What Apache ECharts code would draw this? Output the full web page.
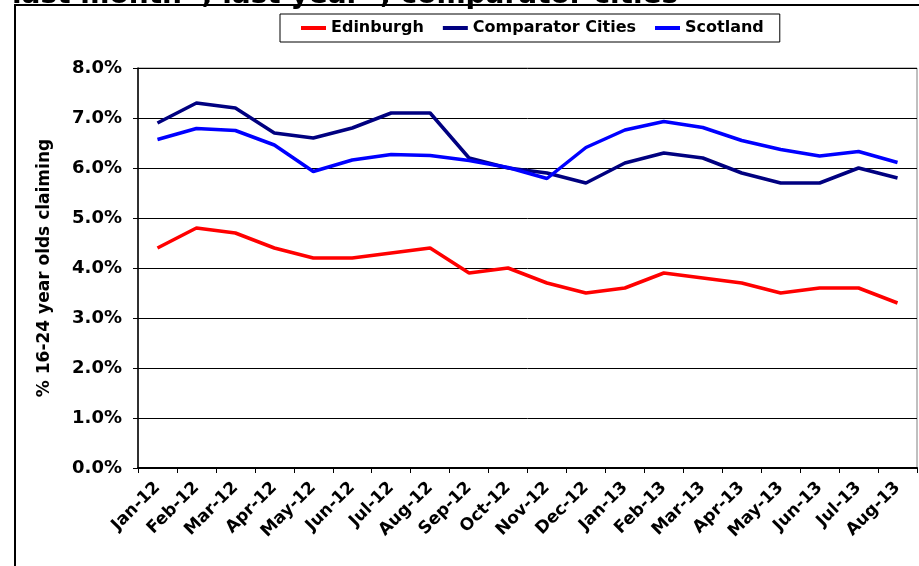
<!DOCTYPE html>
<html>
<head>
<meta charset="utf-8">
<script src="https://cdn.jsdelivr.net/npm/echarts@6/dist/echarts.min.js"></script>
<style>
  html, body { margin: 0; padding: 0; background: #fff; }
  #chart { width: 919px; height: 566px; }
</style>
</head>
<body>
<div id="chart"></div>
<script>
// 月份
var months = ['Jan-12', 'Feb-12', 'Mar-12', 'Apr-12', 'May-12', 'Jun-12', 'Jul-12', 'Aug-12', 'Sep-12', 'Oct-12',
  'Nov-12', 'Dec-12', 'Jan-13', 'Feb-13', 'Mar-13', 'Apr-13', 'May-13', 'Jun-13', 'Jul-13', 'Aug-13'];
// % 16-24 year olds claiming
var edinburgh = [4.4, 4.8, 4.7, 4.4, 4.2, 4.2, 4.3, 4.4, 3.9, 4.0, 3.7, 3.5, 3.6, 3.9, 3.8, 3.7, 3.5, 3.6, 3.6, 3.3];
var comparator = [6.9, 7.3, 7.2, 6.7, 6.6, 6.8, 7.1, 7.1, 6.2, 6.0, 5.9, 5.7, 6.1, 6.3, 6.2, 5.9, 5.7, 5.7, 6.0, 5.8];
var scotland = [6.57, 6.79, 6.75, 6.46, 5.93, 6.16, 6.27, 6.25, 6.15, 6.01, 5.79, 6.41, 6.76, 6.93, 6.81, 6.55, 6.37, 6.24, 6.33, 6.11];
var yTicks = [0, 1, 2, 3, 4, 5, 6, 7, 8];

var font = 'DejaVu Sans';
var chart = echarts.init(document.getElementById('chart'));

var option = {
  animation: false,
  // 标题被截掉一半
  title: {
    text: 'last month {g|↑}, last year {g|↑}, comparator cities {g|↑}',
    left: 12,
    top: -18,
    padding: 0,
    textStyle: {
      fontFamily: font,
      fontWeight: 'bold',
      fontSize: 28,
      color: '#000',
      rich: {
        g: { color: '#00a000', fontSize: 12, fontFamily: font }
      }
    }
  },
  graphic: [{
    type: 'rect',
    z: -1,
    shape: { x: 15, y: 5, width: 1000, height: 1000 },
    style: { fill: 'none', stroke: '#000', lineWidth: 2 }
  }],
  legend: {
    left: 280,
    top: 14,
    padding: [6, 16, 6, 21],
    itemGap: 19,
    itemWidth: 25,
    itemHeight: 4,
    icon: 'rect',
    borderColor: '#000',
    borderWidth: 1,
    backgroundColor: '#fff',
    textStyle: { fontFamily: font, fontWeight: 'bold', fontSize: 16, color: '#000' },
    data: ['Edinburgh', 'Comparator Cities', 'Scotland']
  },
  grid: {
    left: 138,
    right: 2,
    top: 68,
    bottom: 98,
    show: true,
    borderColor: '#808080',
    borderWidth: 1,
    containLabel: false
  },
  xAxis: {
    type: 'category',
    data: months,
    boundaryGap: true,
    axisLine: { lineStyle: { color: '#000', width: 2 } },
    axisTick: { show: true, length: 5, lineStyle: { color: '#000' } },
    axisLabel: {
      rotate: 45,
      interval: 0,
      margin: 17,
      fontFamily: font,
      fontWeight: 'bold',
      fontSize: 17,
      color: '#000'
    }
  },
  yAxis: {
    type: 'value',
    min: yTicks[0],
    max: yTicks[yTicks.length - 1],
    interval: 1,
    name: '% 16-24 year olds claiming',
    nameLocation: 'middle',
    nameGap: 85,
    nameTextStyle: { fontFamily: font, fontWeight: 'bold', fontSize: 17, color: '#000' },
    axisLine: { show: true, lineStyle: { color: '#000', width: 1.5 } },
    axisTick: { show: true, length: 5, lineStyle: { color: '#000' } },
    axisLabel: {
      margin: 16,
      fontFamily: font,
      fontWeight: 'bold',
      fontSize: 18,
      color: '#000',
      formatter: function (v) { return v.toFixed(1) + '%'; }
    },
    splitLine: { show: true, lineStyle: { color: '#000', width: 1 } }
  },
  series: [
    {
      name: 'Edinburgh', type: 'line', data: edinburgh, symbol: 'none',
      itemStyle: { color: '#ff0000' }, lineStyle: { color: '#ff0000', width: 3.5 }
    },
    {
      name: 'Comparator Cities', type: 'line', data: comparator, symbol: 'none',
      itemStyle: { color: '#000080' }, lineStyle: { color: '#000080', width: 3.5 }
    },
    {
      name: 'Scotland', type: 'line', data: scotland, symbol: 'none',
      itemStyle: { color: '#0000ff' }, lineStyle: { color: '#0000ff', width: 3.5 }
    }
  ]
};

chart.setOption(option);
</script>
</body>
</html>
